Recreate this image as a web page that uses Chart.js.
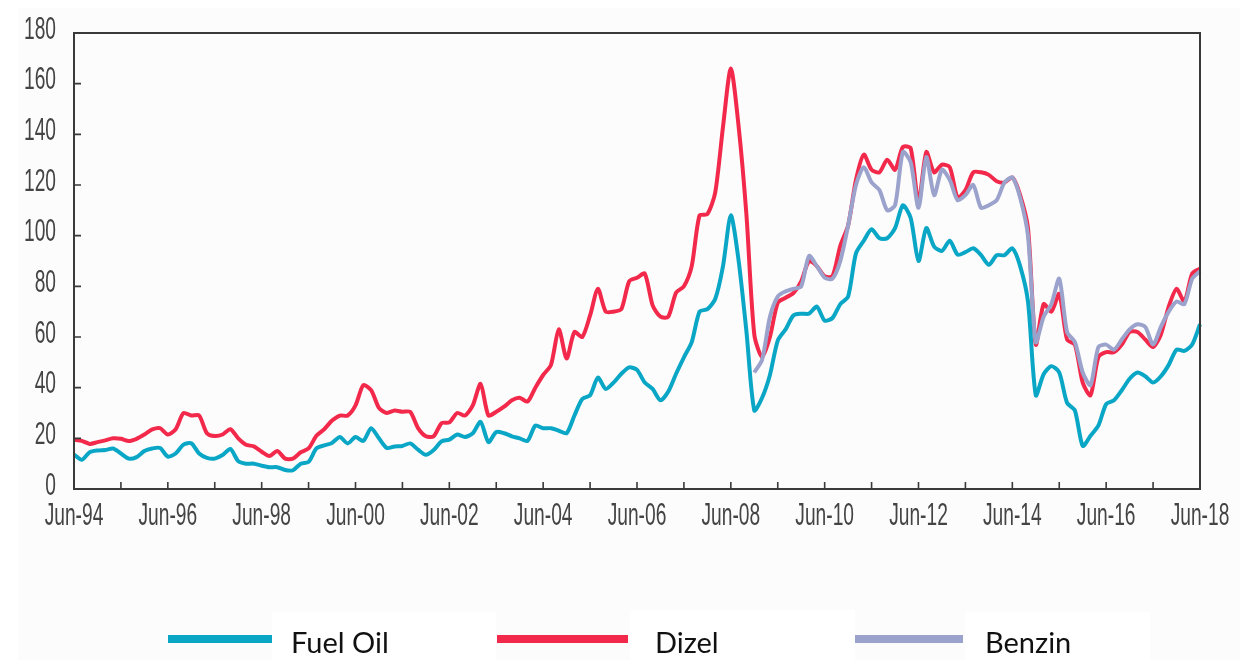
<!DOCTYPE html>
<html>
<head>
<meta charset="utf-8">
<script src="https://cdn.jsdelivr.net/npm/chart.js@4/dist/chart.umd.min.js"></script>
<style>
  html, body { margin: 0; padding: 0; background: #fff; }
  #wrap { width: 1255px; height: 660px; }
</style>
</head>
<body>
<div id="wrap"><canvas id="fuelChart" width="1255" height="660"></canvas></div>
<script>
// === Data: bi-monthly points, Jun-94 .. Jun-18 ===
const monthNames = ["Jun", "Aug", "Oct", "Dec", "Feb", "Apr"];
const firstYear = 94;
const labels = [];
for (let i = 0; i <= 144; i++) {
  const m = i * 2;                       // months after Jun-94
  const yr = (firstYear + Math.floor((m + 5) / 12)) % 100;
  labels.push(monthNames[i % 6] + "-" + String(yr).padStart(2, "0"));
}

const tickLabels = ["Jun-94", "Jun-96", "Jun-98", "Jun-00", "Jun-02", "Jun-04", "Jun-06",
  "Jun-08", "Jun-10", "Jun-12", "Jun-14", "Jun-16", "Jun-18"];
const yTicks = [0, 20, 40, 60, 80, 100, 120, 140, 160, 180];

const fuelOil = [
  13.6, 11.5, 14.5, 15.2, 15.4, 16, 14, 12, 12.6, 15, 16, 16.2,
  12.8, 14, 17.5, 18.1, 14, 12.3, 12, 13.4, 15.8, 11, 10, 10,
  9.2, 8.6, 8.6, 7.5, 7.4, 10, 10.7, 16, 17.2, 18.2, 20.5, 18,
  20.5, 19, 24, 20, 16.2, 16.8, 17, 18, 15.5, 13.5, 15.4, 18.8,
  19.5, 21.5, 20.5, 22, 26.5, 18.5, 22.5, 22, 20.8, 20, 19, 25,
  24, 24, 23, 22, 29, 35.5, 37, 44, 39.5, 42, 45.5, 48,
  47, 42, 39.5, 35, 38.5, 45.5, 52, 58, 70, 71, 75, 88,
  108, 90, 62, 31, 36, 45, 58.6, 63, 68.5, 69.2, 69.2, 72,
  66.5, 67.5, 73, 76, 93, 98, 102.5, 99, 99, 103, 112, 107,
  90, 103, 95.7, 94, 98, 92.5, 93.5, 95, 92.3, 88.5, 92.3, 92.3,
  95, 88, 74, 37, 45.3, 48.5, 46, 34, 31, 17, 21, 25,
  33.5, 35, 39, 43.5, 46, 44.5, 42, 44.5, 49, 55, 54.5, 57,
  65
];

const dizel = [
  19.5, 19, 17.8, 18.5, 19.2, 20, 19.8, 18.9, 19.8, 21.5, 23.5, 24,
  21.5, 23.6, 30, 29, 29, 22, 20.9, 21.5, 23.6, 20, 17.5, 16.8,
  14.7, 13, 15, 12, 12, 14.5, 16, 21, 23.6, 27, 29, 29,
  33, 41, 39, 32, 30, 31, 30.5, 30.4, 24, 20.8, 20.8, 26,
  26.3, 30, 29, 33, 41.5, 29, 30.5, 32.5, 35, 36, 34.5, 40,
  45, 49, 63, 51.5, 62, 60, 68.5, 79, 70, 70, 71, 82,
  83.4, 85, 72.5, 68, 68, 77.5, 80, 88, 108, 108.5, 117, 143,
  166, 143, 108, 61, 52, 60, 73.5, 75.5, 77.3, 82, 90, 88,
  84, 84, 96, 104, 122, 132, 126, 125, 130, 126, 135, 134.5,
  113, 133, 125, 128, 127, 115, 118, 125, 125, 124, 121.5, 121,
  123, 116, 103, 57, 73, 70, 77, 59, 57, 42, 37, 52,
  54, 54, 57, 62, 62, 59, 56, 61, 72, 79, 74, 85,
  87
];

// Benzin series starts in Dec-08 (index 87)
const benzinStart = 87;
const benzinValues = [
  46, 51, 68, 76, 78, 79, 80, 92, 88,
  83.4, 83, 90, 104, 120, 127, 121, 118, 110, 112, 133, 129,
  111, 131, 116, 126, 122, 114, 116, 120, 111, 112, 114, 121,
  123, 115, 100, 58, 68, 73, 83, 62, 58, 46, 41, 56,
  57, 55, 59, 63, 65, 64, 57, 64, 70, 74, 73, 83,
  86
];
const benzin = Array(benzinStart).fill(null).concat(benzinValues);

const seriesNames = ["Fuel Oil", "Dizel", "Benzin"];
const seriesColors = ["#0aa6c6", "#f2294b", "#9ba3cc"];

// narrow axis text: Liberation Sans squeezed horizontally
function narrowText(ctx, text, x, y, align) {
  ctx.save();
  ctx.translate(x, y);
  ctx.scale(0.6, 1);
  ctx.textAlign = align;
  ctx.fillText(text, 0, 0);
  ctx.restore();
}

// === Page background, frame, ticks, axis labels and bottom legend ===
const framePlugin = {
  id: "framePlugin",
  beforeDraw(chart) {
    const ctx = chart.ctx;
    ctx.save();
    ctx.fillStyle = "#fcfcfc";
    ctx.fillRect(18, 8, 1222, 652);
    ctx.fillStyle = "#ffffff";
    ctx.fillRect(272, 612, 224, 48);
    ctx.fillRect(630, 610, 225, 50);
    ctx.fillRect(965, 612, 185, 48);
    ctx.restore();
  },
  afterDraw(chart) {
    const { ctx, chartArea: a, scales } = chart;
    ctx.save();
    ctx.strokeStyle = "#3a3a3a";
    ctx.lineWidth = 2;
    ctx.strokeRect(a.left, a.top, a.right - a.left, a.bottom - a.top);

    ctx.lineWidth = 1.6;
    ctx.beginPath();
    yTicks.forEach(v => {
      const py = scales.y.getPixelForValue(v);
      ctx.moveTo(a.left, py);
      ctx.lineTo(a.left + 7, py);
    });
    labels.forEach((l, i) => {
      if (i % 6 !== 0) return;
      const px = scales.x.getPixelForValue(i);
      ctx.moveTo(px, a.bottom);
      ctx.lineTo(px, a.bottom - 7);
    });
    ctx.stroke();

    // axis labels
    ctx.font = "32px 'Liberation Sans', Arial, sans-serif";
    ctx.fillStyle = "#444";
    ctx.textBaseline = "middle";
    yTicks.forEach(v => {
      narrowText(ctx, String(v), 56, scales.y.getPixelForValue(v) - 3, "right");
    });
    tickLabels.forEach((t, k) => {
      narrowText(ctx, t, scales.x.getPixelForValue(k * 12), a.bottom + 27, "center");
    });

    // legend
    const legendY = 639;
    const items = [
      { x1: 168, x2: 272, tx: 291 },
      { x1: 497, x2: 628, tx: 655 },
      { x1: 855, x2: 963, tx: 985 }
    ];
    ctx.font = "29px Lato, 'Open Sans', sans-serif";
    ctx.textBaseline = "alphabetic";
    ctx.textAlign = "left";
    ctx.fillStyle = "#111";
    items.forEach((it, k) => {
      ctx.strokeStyle = seriesColors[k];
      ctx.lineWidth = 8;
      ctx.beginPath();
      ctx.moveTo(it.x1, legendY);
      ctx.lineTo(it.x2, legendY);
      ctx.stroke();
      ctx.fillText(seriesNames[k], it.tx, 653);
    });
    ctx.restore();
  }
};

const allSeries = [fuelOil, dizel, benzin];
const drawOrder = [0, 2, 1];

new Chart(document.getElementById("fuelChart"), {
  type: "line",
  data: {
    labels: labels,
    datasets: allSeries.map((d, k) => ({
      label: seriesNames[k],
      data: d,
      borderColor: seriesColors[k],
      backgroundColor: seriesColors[k],
      borderWidth: 4,
      pointRadius: 0,
      tension: 0.25,
      order: drawOrder[k]
    }))
  },
  options: {
    responsive: false,
    animation: false,
    devicePixelRatio: 1,
    layout: { padding: { top: 33, right: 55, left: 0, bottom: 0 } },
    plugins: {
      legend: { display: false },
      tooltip: { enabled: false }
    },
    scales: {
      x: {
        type: "category",
        offset: false,
        grid: { display: false, drawTicks: false },
        border: { display: false },
        ticks: { display: false },
        afterFit: scale => { scale.height = 171; }
      },
      y: {
        min: 0,
        max: 180,
        grid: { display: false, drawTicks: false },
        border: { display: false },
        ticks: { display: false, stepSize: 20 },
        afterFit: scale => { scale.width = 74; }
      }
    }
  },
  plugins: [framePlugin]
});
</script>
</body>
</html>
